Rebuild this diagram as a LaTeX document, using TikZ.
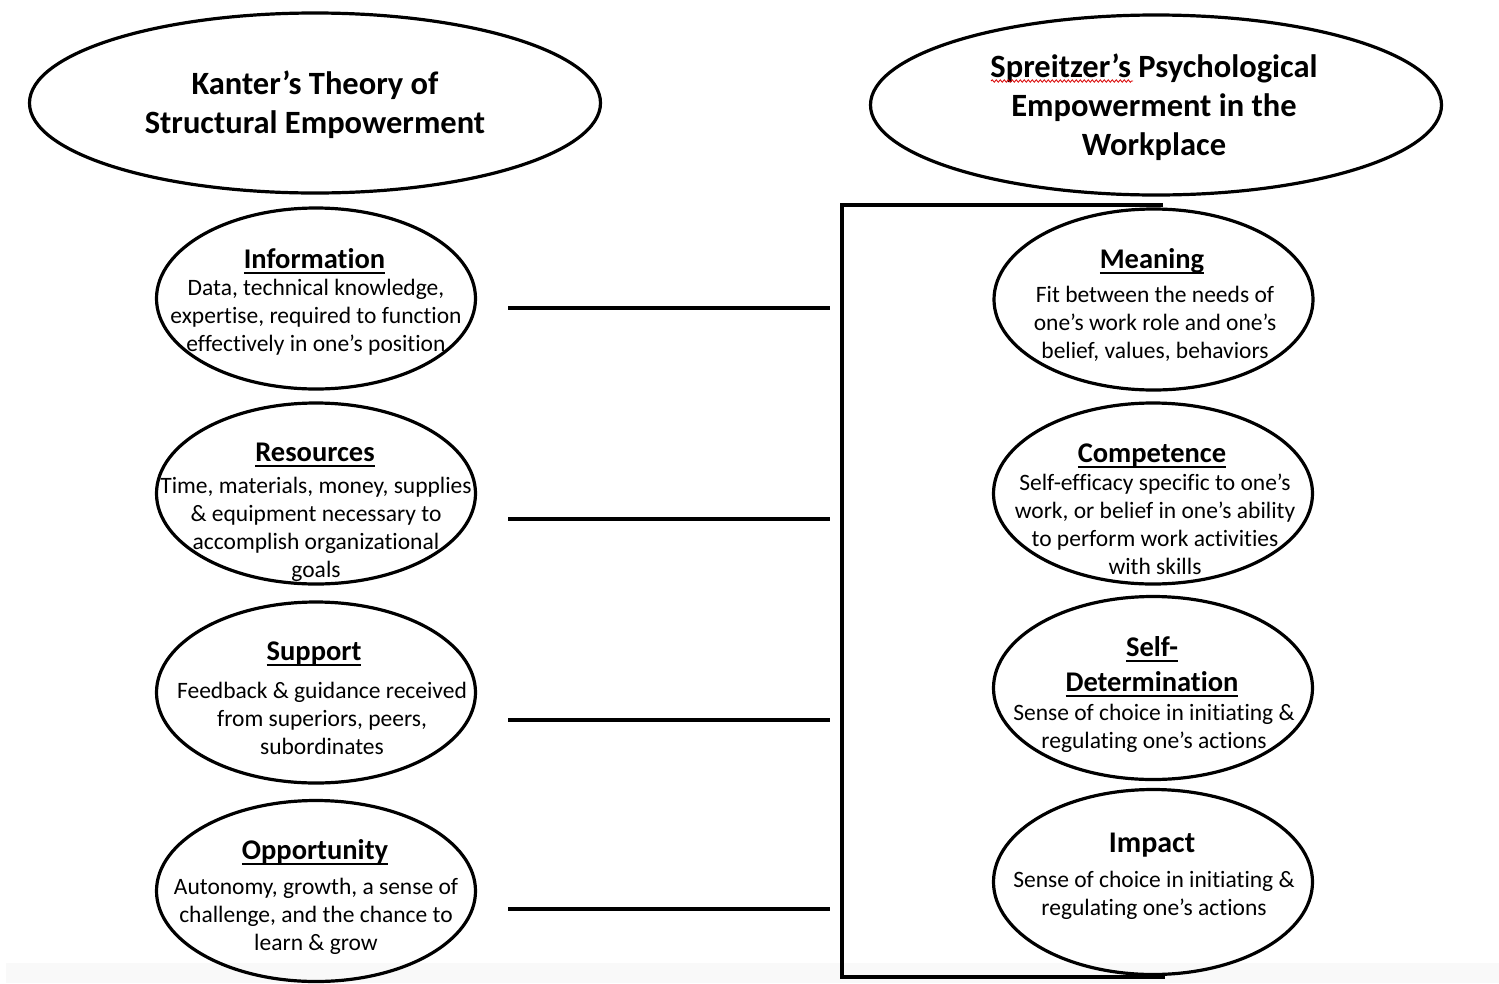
\documentclass[tikz,border=0pt]{standalone}
\usepackage{fontspec}
\setmainfont{Carlito}[Ligatures={NoCommon}]
\usetikzlibrary{shapes.geometric,decorations.pathmorphing}
\newcommand\myul[1]{\setbox0=\hbox{#1}\rlap{\vrule width\wd0 height -3.5pt depth 5.8pt}\box0}
\begin{document}
\begin{tikzpicture}[x=1pt,y=-1pt,
 oval/.style={draw, ellipse, line width=3.2pt, inner sep=0pt},
 bigoval/.style={oval, minimum width=571pt, minimum height=180pt},
 smalloval/.style={oval, minimum width=319pt, minimum height=181pt},
 title/.style={align=center, font=\fontsize{32.5}{39}\selectfont\bfseries, inner sep=0pt},
 head/.style={font=\fontsize{28.5}{34}\selectfont\bfseries, text height=20pt, text depth=1.2pt, inner sep=0pt},
 body/.style={align=center, font=\fontsize{23.5}{28}\selectfont, inner sep=0pt},
 link/.style={line width=4pt},
 bracket/.style={line width=3.6pt}]
\useasboundingbox (0,0) rectangle (1499,983);
\fill[black!2.5] (6,963) rectangle (1499,983);

% titles
\node[bigoval] (kanter) at (315,103) {};
\node[title] (kanterT) at (315,106) {\strut Kanter’s Theory of\\\strut Structural Empowerment};
\node[bigoval] (spreitzer) at (1156,105) {};
\node[title] (spreitzerT) at (1154,109) {\strut Spreitzer’s Psychological\\\strut Empowerment in the\\\strut Workplace};
\coordinate (sq1) at (991,81);
\coordinate (sq2) at (1133,81);
\draw[red!85!black, line width=0.8pt, decorate, decoration={snake, amplitude=1.2pt, segment length=4pt}] (sq1) -- (sq2);

% left column
\node[smalloval] (info) at (316,298.5) {};
\node[head] (infoH) at (314.5,259) {\myul{Information}};
\node[body] (infoB) at (316,317.5) {\strut Data, technical knowledge,\\\strut expertise, required to function\\\strut effectively in one’s position};

\node[smalloval] (res) at (316,493.5) {};
\node[head] (resH) at (315,452) {\myul{Resources}};
\node[body] (resB) at (316,530) {\strut Time, materials, money, supplies\\\strut \& equipment necessary to\\\strut accomplish organizational\\\strut goals};

\node[smalloval] (sup) at (316,692.5) {};
\node[head] (supH) at (314,651) {\myul{Support}};
\node[body] (supB) at (322,720.5) {\strut Feedback \& guidance received\\\strut from superiors, peers,\\\strut subordinates};

\node[smalloval] (opp) at (316,891) {};
\node[head] (oppH) at (315,850) {\myul{Opportunity}};
\node[body] (oppB) at (316,916.5) {\strut Autonomy, growth, a sense of\\\strut challenge, and the chance to\\\strut learn \& grow};

% right column
\node[smalloval] (mean) at (1153.5,299.5) {};
\node[head] (meanH) at (1152,259) {\myul{Meaning}};
\node[body] (meanB) at (1155,324.5) {\strut Fit between the needs of\\\strut one’s work role and one’s\\\strut belief, values, behaviors};

\node[smalloval] (comp) at (1153,493.5) {};
\node[head] (compH) at (1152,453) {\myul{Competence}};
\node[body] (compB) at (1155,526.5) {\strut Self-efficacy specific to one’s\\\strut work, or belief in one’s ability\\\strut to perform work activities\\\strut with skills};

\node[smalloval, minimum height=183pt] (self) at (1153,688) {};
\node[align=center, font=\fontsize{28.5}{35}\selectfont\bfseries, inner sep=0pt] (selfH) at (1152,667) {\strut\myul{Self-}\\\strut\myul{Determination}};
\node[body] (selfB) at (1154,728.5) {\strut Sense of choice in initiating \&\\\strut regulating one’s actions};

\node[smalloval, minimum height=185pt] (imp) at (1153,882) {};
\node[head, font=\fontsize{30}{36}\selectfont\bfseries] (impH) at (1152,843) {Impact};
\node[body] (impB) at (1154,895.5) {\strut Sense of choice in initiating \&\\\strut regulating one’s actions};

% connectors
\coordinate (l1a) at (508,308); \coordinate (l1b) at (830,308);
\coordinate (l2a) at (508,519); \coordinate (l2b) at (830,519);
\coordinate (l3a) at (508,720); \coordinate (l3b) at (830,720);
\coordinate (l4a) at (508,909); \coordinate (l4b) at (830,909);
\draw[link] (l1a) -- (l1b);
\draw[link] (l2a) -- (l2b);
\draw[link] (l3a) -- (l3b);
\draw[link] (l4a) -- (l4b);

% bracket
\coordinate (bt) at (1163,205);
\coordinate (btl) at (842,205);
\coordinate (bbl) at (842,977);
\coordinate (bb) at (1165,977);
\draw[bracket] (bt) -- (btl) -- (bbl) -- (bb);
\end{tikzpicture}
\end{document}
